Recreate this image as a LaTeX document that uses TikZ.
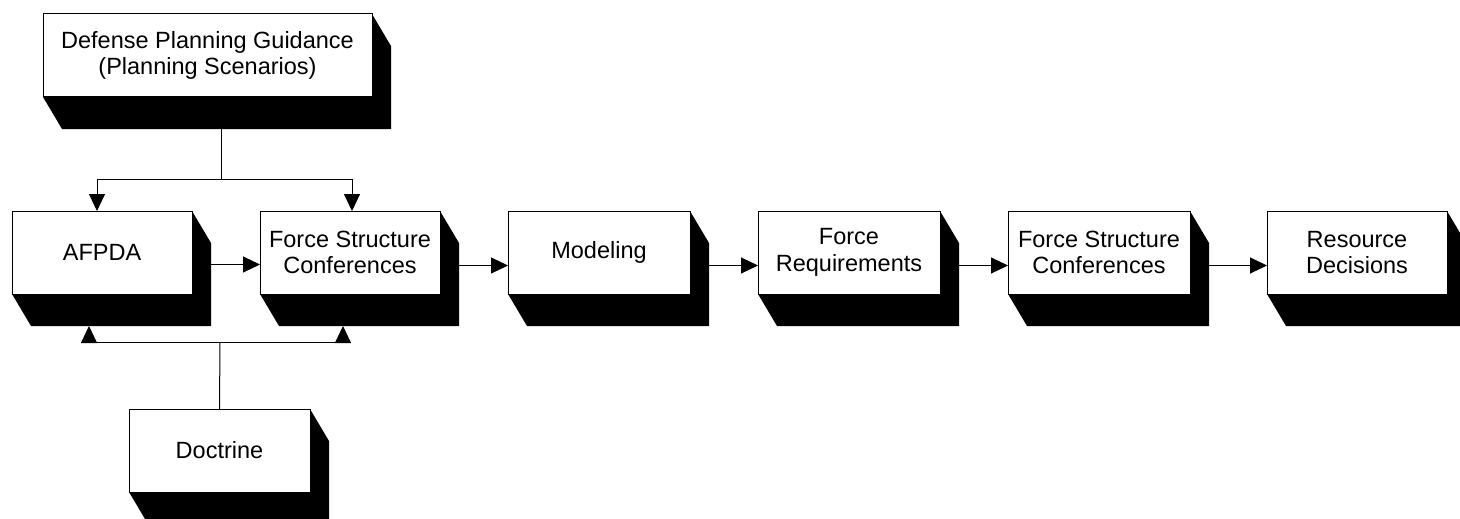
\documentclass[tikz,border=0pt]{standalone}
\usepackage{fontspec}
\setmainfont{Liberation Sans}
\usetikzlibrary{arrows.meta}
\tikzset{
  boxnode/.style={draw=black, line width=1pt, fill=white, inner sep=0pt, outer sep=0pt,
    align=center, font=\fontsize{23.5}{26.5}\selectfont},
  conn/.style={line width=1pt, draw=black},
  arr/.style={conn, -{Triangle[length=17pt,width=16pt]}},
}
% #1 name, #2 x1, #3 y1, #4 x2, #5 y2, #6 text
\newcommand\shbox[6]{%
  \fill[black] (#2,#5) -- ({#2+19},{#5+32}) -- ({#4+19},{#5+32}) -- ({#4+19},{#3+32}) -- (#4,#3) -- cycle;
  \node[boxnode, minimum width={(#4-#2)*1pt}, minimum height={(#5-#3)*1pt}]
    (#1) at ({(#2+#4)/2},{(#3+#5)/2}) {#6};
}
\begin{document}
\begin{tikzpicture}[x=1pt,y=-1pt]
\useasboundingbox (0,0) rectangle (1460,519);
\clip (0,0) rectangle (1460,519);

\shbox{dpg}{43}{14}{372}{97}{Defense Planning Guidance\\(Planning Scenarios)}
\shbox{afpda}{12}{211}{192}{294}{AFPDA}
\shbox{fsca}{260}{211}{440}{294}{Force Structure\\Conferences}
\shbox{model}{508}{211}{690}{294}{Modeling}
\shbox{freq}{758}{211}{940}{294}{Force\\Requirements}
\shbox{fscb}{1008}{211}{1190}{294}{Force Structure\\Conferences}
\shbox{res}{1267}{211}{1447}{294}{Resource\\Decisions}
\shbox{doct}{129}{409}{310}{492}{Doctrine}

% top distribution
\coordinate (j1) at (221,179);
\draw[conn] ([shift={(13.5,32)}]dpg.south) -- (j1);
\draw[arr] (j1) -| ([xshift=-5]afpda.north);
\draw[arr] (j1) -| ([xshift=2]fsca.north);

% bottom distribution
\coordinate (j2) at (220,342);
\draw[conn] (doct.north) -- (j2);
\draw[arr] (j2) -| ([shift={(-13,32)}]afpda.south);
\draw[arr] (j2) -| ([shift={(-7,32)}]fsca.south);

% main chain
\draw[arr] ([shift={(19,12)}]afpda.east) -- ([shift={(0,12)}]fsca.west);
\draw[arr] ([shift={(19,13)}]fsca.east) -- ([shift={(0,13)}]model.west);
\draw[arr] ([shift={(19,13)}]model.east) -- ([shift={(0,13)}]freq.west);
\draw[arr] ([shift={(19,13)}]freq.east) -- ([shift={(0,13)}]fscb.west);
\draw[arr] ([shift={(19,13)}]fscb.east) -- ([shift={(0,13)}]res.west);
\end{tikzpicture}
\end{document}
